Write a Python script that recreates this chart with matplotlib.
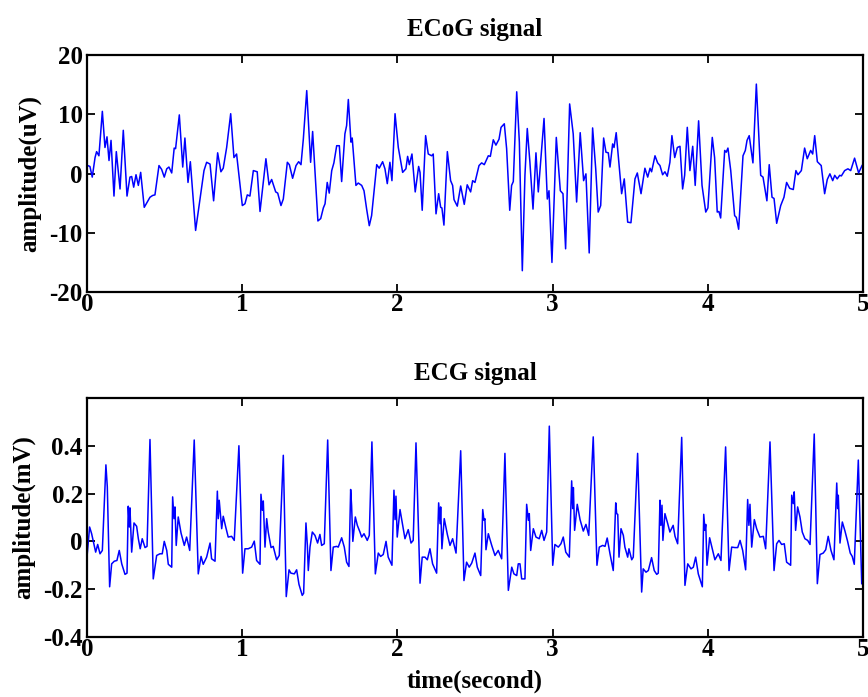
import numpy as np
import matplotlib.pyplot as plt

# ECoG trace: time (s) and amplitude (uV)
ecog_t = [0.000, 0.019, 0.034, 0.052, 0.062, 0.077, 0.099, 0.116, 0.129, 0.142,
          0.155, 0.174, 0.189, 0.213, 0.234, 0.258, 0.277, 0.288, 0.301, 0.316,
          0.331, 0.346, 0.369, 0.391, 0.406, 0.423, 0.438, 0.464, 0.481, 0.498,
          0.514, 0.528, 0.546, 0.562, 0.571, 0.595, 0.617, 0.631, 0.651, 0.666,
          0.700, 0.728, 0.754, 0.771, 0.793, 0.816, 0.842, 0.863, 0.878, 0.900,
          0.926, 0.947, 0.964, 1.001, 1.018, 1.033, 1.050, 1.072, 1.097, 1.115,
          1.153, 1.173, 1.190, 1.216, 1.229, 1.250, 1.265, 1.291, 1.304, 1.325,
          1.347, 1.364, 1.379, 1.394, 1.416, 1.441, 1.454, 1.488, 1.506, 1.523,
          1.534, 1.548, 1.561, 1.577, 1.591, 1.609, 1.626, 1.641, 1.662, 1.673,
          1.684, 1.701, 1.709, 1.733, 1.748, 1.770, 1.785, 1.802, 1.819, 1.834,
          1.867, 1.883, 1.905, 1.920, 1.935, 1.952, 1.965, 1.985, 2.006, 2.034,
          2.055, 2.066, 2.077, 2.094, 2.115, 2.137, 2.146, 2.160, 2.182, 2.199,
          2.221, 2.231, 2.249, 2.266, 2.279, 2.287, 2.300, 2.322, 2.343, 2.356,
          2.365, 2.386, 2.408, 2.431, 2.450, 2.472, 2.485, 2.500, 2.526, 2.543,
          2.560, 2.586, 2.599, 2.618, 2.635, 2.655, 2.668, 2.689, 2.704, 2.724,
          2.736, 2.747, 2.769, 2.786, 2.805, 2.822, 2.837, 2.854, 2.874, 2.893,
          2.908, 2.945, 2.966, 2.977, 2.996, 3.024, 3.050, 3.067, 3.084, 3.110,
          3.133, 3.155, 3.178, 3.200, 3.215, 3.236, 3.258, 3.278, 3.294, 3.310,
          3.329, 3.344, 3.359, 3.370, 3.387, 3.396, 3.410, 3.445, 3.462, 3.484,
          3.505, 3.531, 3.546, 3.570, 3.595, 3.613, 3.628, 3.638, 3.660, 3.677,
          3.692, 3.709, 3.724, 3.739, 3.756, 3.769, 3.787, 3.804, 3.821, 3.838,
          3.851, 3.868, 3.885, 3.903, 3.919, 3.941, 3.963, 3.987, 4.001, 4.029,
          4.044, 4.061, 4.072, 4.083, 4.109, 4.119, 4.130, 4.148, 4.173, 4.184,
          4.199, 4.227, 4.242, 4.253, 4.267, 4.291, 4.313, 4.341, 4.356, 4.381,
          4.396, 4.414, 4.427, 4.444, 4.470, 4.491, 4.508, 4.528, 4.551, 4.568,
          4.581, 4.603, 4.624, 4.641, 4.663, 4.676, 4.689, 4.706, 4.731, 4.753,
          4.770, 4.787, 4.805, 4.818, 4.834, 4.850, 4.861, 4.882, 4.903, 4.921,
          4.946, 4.972, 4.994]
ecog_v = [1.4, 1.2, -0.6, 2.7, 3.7, 3.0, 10.5, 4.4, 6.2, 2.2,
          5.6, -3.8, 3.7, -2.6, 7.3, -3.8, -0.6, -0.5, -2.3, -0.2,
          -2.0, 0.2, -5.7, -4.7, -4.0, -3.7, -3.6, 1.35, 0.7, -0.6,
          0.8, 1.1, 0.1, 4.3, 4.2, 9.9, 1.1, 6.0, -1.5, 2.0,
          -9.6, -4.3, 0.5, 1.9, 1.6, -4.6, 3.5, 0.3, 0.9, 4.4,
          10.1, 2.7, 3.3, -5.4, -5.1, -3.6, -3.8, 0.5, 0.3, -6.4,
          2.5, -1.9, -1.0, -3.1, -3.3, -5.4, -4.3, 1.9, 1.5, -0.8,
          1.35, 2.0, 1.5, 5.8, 14.0, 1.9, 7.1, -8.0, -7.6, -5.8,
          -5.1, -1.5, -3.3, 0.5, 1.8, 4.7, 4.7, -1.35, 6.7, 8.1,
          12.5, 5.3, 6.0, -2.0, -1.6, -2.0, -2.9, -6.0, -8.8, -7.1,
          1.5, 0.9, 2.0, 0.8, -1.7, 1.9, -1.2, 10.1, 4.4, 0.2,
          0.8, 2.9, 1.5, 3.3, -3.1, 1.2, 0.2, -6.2, 6.4, 3.3,
          3.0, 3.3, -6.8, -3.4, -5.7, -5.8, -8.7, 3.7, -1.2, -2.0,
          -4.4, -5.5, -2.1, -5.2, -1.9, -3.1, -1.2, -1.5, 1.35, 1.8,
          1.5, 3.0, 2.9, 5.7, 4.8, 5.8, 7.8, 8.4, 4.2, -6.2,
          -2.0, -1.35, 13.8, 5.3, -16.4, -0.3, 7.6, 1.9, -6.0, 3.5,
          -3.1, 9.3, -4.3, -2.9, -15.0, 6.1, -2.9, -3.4, -12.7, 11.75,
          6.7, -4.8, 6.9, -1.2, -0.05, -13.4, 7.7, 0.8, -6.5, -5.4,
          6.0, 3.6, 3.5, 1.1, 5.0, 4.4, 6.9, -3.4, -0.9, -8.2,
          -8.3, -0.9, 0.1, -3.4, 0.9, -0.6, 0.9, 0.3, 3.0, 1.8,
          1.35, -0.2, 0.3, -0.45, 1.9, 6.4, 2.7, 4.4, 4.6, -2.6,
          -0.3, 7.8, 0.5, 4.6, -2.0, 8.9, -2.0, -6.5, -5.8, 6.1,
          2.7, -6.5, -6.4, -7.5, 3.9, 3.6, 4.3, 0.5, -7.1, -7.4,
          -9.4, 3.0, 3.9, 5.6, 6.4, 1.8, 15.1, -0.3, -0.6, -4.6,
          1.5, -4.0, -4.2, -8.4, -5.4, -4.0, -1.5, -2.5, -2.7, 0.5,
          -0.2, 0.5, 4.3, 2.5, 3.9, 3.3, 6.4, 2.0, 1.35, -3.4,
          -1.0, -0.05, -1.2, -0.3, -0.9, -0.3, -0.4, 0.5, 0.8, 0.5,
          2.6, 0.1, 1.35]

# ECG trace: time (s) and amplitude (mV)
ecg_t = [0.000, 0.017, 0.030, 0.041, 0.056, 0.069, 0.084, 0.099, 0.122, 0.131,
         0.146, 0.159, 0.176, 0.193, 0.208, 0.224, 0.245, 0.258, 0.266, 0.273,
         0.277, 0.288, 0.303, 0.320, 0.331, 0.343, 0.356, 0.374, 0.387, 0.406,
         0.427, 0.449, 0.470, 0.485, 0.498, 0.514, 0.524, 0.546, 0.552, 0.561,
         0.567, 0.575, 0.588, 0.606, 0.627, 0.642, 0.662, 0.691, 0.717, 0.735,
         0.749, 0.771, 0.793, 0.803, 0.825, 0.840, 0.846, 0.852, 0.868, 0.878,
         0.894, 0.910, 0.932, 0.949, 0.979, 1.003, 1.018, 1.039, 1.061, 1.078,
         1.093, 1.115, 1.121, 1.130, 1.136, 1.147, 1.158, 1.168, 1.186, 1.200,
         1.222, 1.239, 1.265, 1.284, 1.302, 1.314, 1.336, 1.351, 1.366, 1.387,
         1.396, 1.411, 1.420, 1.426, 1.437, 1.452, 1.469, 1.486, 1.501, 1.512,
         1.529, 1.551, 1.572, 1.587, 1.609, 1.619, 1.641, 1.658, 1.673, 1.688,
         1.699, 1.705, 1.713, 1.729, 1.742, 1.759, 1.770, 1.785, 1.806, 1.819,
         1.836, 1.858, 1.877, 1.892, 1.909, 1.927, 1.941, 1.965, 1.978, 1.985,
         1.991, 1.999, 2.017, 2.034, 2.049, 2.070, 2.088, 2.102, 2.120, 2.146,
         2.160, 2.178, 2.193, 2.210, 2.227, 2.253, 2.266, 2.275, 2.279, 2.287,
         2.302, 2.322, 2.339, 2.356, 2.378, 2.408, 2.429, 2.446, 2.463, 2.479,
         2.500, 2.515, 2.537, 2.550, 2.558, 2.564, 2.571, 2.586, 2.608, 2.629,
         2.650, 2.672, 2.693, 2.715, 2.737, 2.751, 2.769, 2.779, 2.790, 2.801,
         2.822, 2.833, 2.844, 2.850, 2.859, 2.876, 2.893, 2.914, 2.930, 2.945,
         2.962, 2.979, 3.001, 3.015, 3.037, 3.054, 3.069, 3.085, 3.108, 3.123,
         3.130, 3.134, 3.142, 3.159, 3.177, 3.198, 3.215, 3.233, 3.262, 3.286,
         3.301, 3.323, 3.338, 3.352, 3.370, 3.391, 3.407, 3.413, 3.420, 3.428,
         3.441, 3.456, 3.466, 3.484, 3.492, 3.510, 3.520, 3.548, 3.574, 3.584,
         3.602, 3.617, 3.638, 3.655, 3.671, 3.681, 3.692, 3.698, 3.705, 3.711,
         3.724, 3.742, 3.756, 3.777, 3.789, 3.806, 3.832, 3.853, 3.871, 3.892,
         3.907, 3.922, 3.939, 3.965, 3.974, 3.982, 3.987, 3.995, 4.012, 4.029,
         4.046, 4.068, 4.085, 4.115, 4.137, 4.154, 4.175, 4.193, 4.208, 4.225,
         4.244, 4.257, 4.265, 4.272, 4.283, 4.300, 4.315, 4.336, 4.358, 4.373,
         4.401, 4.427, 4.444, 4.459, 4.476, 4.493, 4.508, 4.534, 4.541, 4.551,
         4.557, 4.566, 4.579, 4.594, 4.609, 4.626, 4.644, 4.659, 4.686, 4.706,
         4.723, 4.744, 4.760, 4.776, 4.794, 4.813, 4.831, 4.837, 4.841, 4.852,
         4.867, 4.884, 4.901, 4.918, 4.931, 4.944, 4.970, 4.992]
ecg_v = [-0.066, 0.060, 0.032, 0.000, -0.045, -0.013, -0.052, -0.038, 0.320, 0.228,
         -0.190, -0.094, -0.083, -0.080, -0.038, -0.094, -0.138, -0.133, 0.147, 0.060,
         0.140, -0.045, 0.077, 0.063, 0.011, -0.031, 0.011, -0.026, -0.021, 0.426,
         -0.157, -0.059, -0.052, -0.052, 0.000, -0.038, -0.096, -0.108, 0.186, 0.095,
         0.144, -0.017, 0.102, 0.035, -0.017, 0.018, -0.038, 0.424, -0.136, -0.063,
         -0.096, -0.066, -0.007, -0.073, -0.083, 0.210, 0.095, 0.172, 0.053, 0.105,
         0.060, 0.018, 0.021, 0.004, 0.400, -0.133, -0.031, -0.031, -0.024, 0.001,
         -0.080, -0.096, 0.197, 0.130, 0.169, -0.024, 0.095, 0.039, -0.026, -0.021,
         -0.077, -0.059, 0.360, -0.231, -0.119, -0.133, -0.136, -0.119, -0.180, -0.226,
         -0.217, 0.077, -0.017, -0.122, -0.024, 0.039, 0.025, -0.007, 0.029, -0.017,
         -0.010, 0.424, -0.122, -0.024, -0.021, -0.024, 0.015, -0.024, -0.087, -0.105,
         0.217, 0.150, 0.000, 0.102, 0.067, 0.039, 0.018, 0.032, 0.004, 0.025,
         0.416, -0.136, -0.049, -0.063, -0.055, 0.000, -0.066, -0.100, 0.214, 0.091,
         0.189, 0.018, 0.133, 0.067, 0.011, 0.049, -0.007, 0.004, 0.412, -0.175,
         -0.066, -0.066, -0.077, -0.031, -0.094, -0.133, 0.161, 0.074, 0.144, -0.031,
         0.095, 0.029, -0.017, 0.011, -0.049, 0.379, -0.164, -0.087, -0.108, -0.091,
         -0.049, -0.108, -0.143, 0.133, 0.088, 0.095, -0.035, 0.032, -0.017, -0.059,
         -0.038, -0.073, 0.368, -0.205, -0.108, -0.136, -0.143, -0.094, -0.094, -0.157,
         -0.157, 0.155, 0.088, 0.116, -0.038, 0.053, 0.018, 0.011, 0.046, 0.004,
         0.039, 0.482, -0.100, -0.013, -0.024, -0.010, 0.018, -0.045, -0.066, 0.253,
         0.137, 0.225, 0.046, 0.155, 0.091, 0.043, 0.071, 0.025, 0.437, -0.100,
         -0.024, -0.017, -0.021, 0.014, -0.052, -0.122, 0.161, 0.116, 0.113, -0.066,
         0.053, 0.025, -0.024, -0.066, -0.031, -0.077, -0.066, 0.368, -0.212, -0.115,
         -0.129, -0.122, -0.068, -0.122, -0.138, -0.133, 0.172, 0.067, 0.151, 0.004,
         0.116, 0.074, 0.039, 0.067, 0.021, -0.010, 0.435, -0.184, -0.094, -0.115,
         -0.108, -0.066, -0.136, -0.190, 0.113, 0.046, 0.071, -0.100, 0.015, -0.031,
         -0.077, -0.052, -0.080, 0.395, -0.122, -0.024, -0.026, -0.026, 0.004, -0.038,
         -0.119, 0.175, 0.067, 0.155, -0.024, 0.091, 0.053, 0.018, 0.021, -0.031,
         0.416, -0.122, -0.010, 0.004, -0.013, -0.010, -0.087, -0.100, 0.193, 0.158,
         0.207, 0.046, 0.144, 0.102, 0.039, 0.011, 0.004, -0.013, 0.449, -0.177,
         -0.055, -0.049, -0.035, 0.021, -0.038, -0.077, 0.244, 0.137, 0.193, -0.007,
         0.081, 0.043, 0.000, -0.049, -0.063, -0.096, 0.340, -0.177]

plt.rcParams['font.family'] = ['Liberation Serif', 'DejaVu Serif']
plt.rcParams['font.weight'] = 'bold'
plt.rcParams['axes.unicode_minus'] = False

fig = plt.figure(figsize=(8.68, 6.97), dpi=100)
ax1 = fig.add_axes([0.1002, 0.581, 0.894, 0.340])
ax2 = fig.add_axes([0.1002, 0.0861, 0.894, 0.343])

ax1.plot(ecog_t, ecog_v, color='blue', lw=1.1)
ax1.set_xlim(0, 5)
ax1.set_ylim(-20, 20)
ax1.set_yticks([-20, -10, 0, 10, 20])
ax1.set_title('ECoG signal', fontsize=18, fontweight='bold', pad=14)
ax1.set_ylabel('amplitude(uV)', fontsize=18, fontweight='bold', labelpad=6)

ax2.plot(ecg_t, ecg_v, color='blue', lw=1.1)
ax2.set_xlim(0, 5)
ax2.set_ylim(-0.4, 0.6)
ax2.set_yticks([-0.4, -0.2, 0, 0.2, 0.4])
ax2.set_yticklabels(['-0.4', '-0.2', '0', '0.2', '0.4'])
ax2.set_title('ECG signal', fontsize=18, fontweight='bold', pad=13)
ax2.set_ylabel('amplitude(mV)', fontsize=18, fontweight='bold', labelpad=6)
ax2.set_xlabel('time(second)', fontsize=18, fontweight='bold', labelpad=6)

for ax in (ax1, ax2):
    ax.set_xticks([0, 1, 2, 3, 4, 5])
    ax.tick_params(direction='in', top=True, right=True, length=6, width=1.3,
                   labelsize=18)
    ax.tick_params(axis='x', pad=1)
    ax.tick_params(axis='y', pad=3)
    for s in ax.spines.values():
        s.set_linewidth(1.6)
    for lab in ax.get_xticklabels() + ax.get_yticklabels():
        lab.set_fontweight('bold')

fig.savefig('out.png', dpi=100)
